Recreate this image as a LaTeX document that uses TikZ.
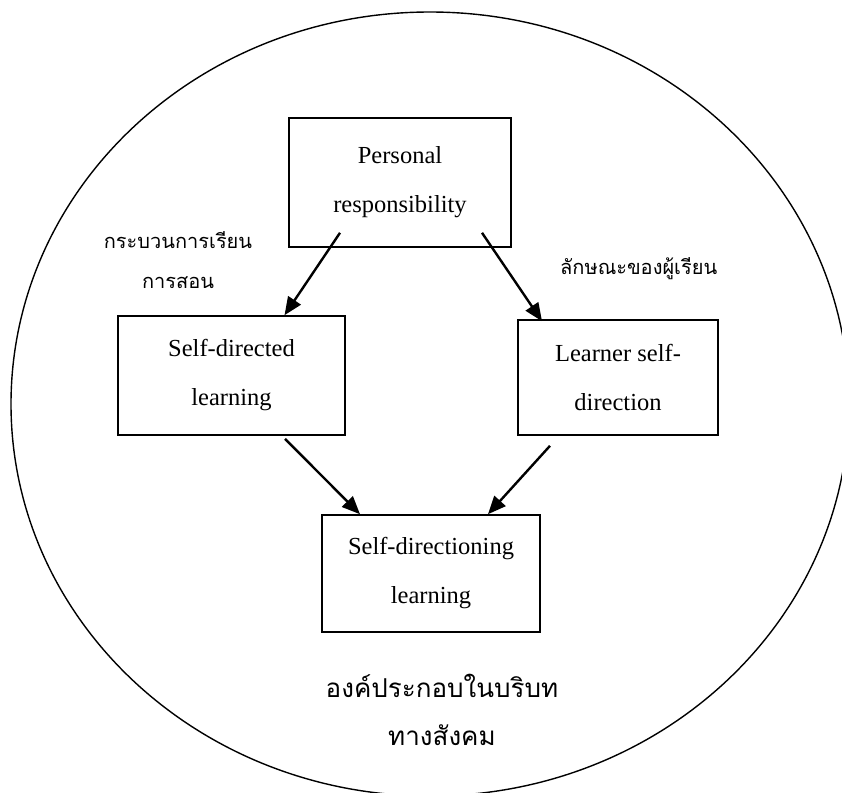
\documentclass[tikz,border=0pt]{standalone}
\usepackage{fontspec}
\setmainfont{Liberation Serif}
\newfontfamily\thaifont[Script=Thai]{Loma}
\usepackage{tikz}
\usetikzlibrary{shapes, arrows, arrows.meta}

\begin{document}
\begin{tikzpicture}[x=1pt, y=-1pt,
    box/.style = {shape=rectangle, draw, line width=1.6pt, align=center,
        font=\fontsize{24.5}{49}\selectfont, inner sep=0pt},
    link/.style = {line width=2.4pt, -{Triangle[length=18pt,width=15pt]}},
    thailabel/.style = {font=\thaifont\fontsize{20}{40}\selectfont, inner sep=0pt}]
    \useasboundingbox (0,0) rectangle (842,792);
    \draw[line width=1.4pt] (430,404) ellipse [x radius=419pt, y radius=392pt];
    \node[box, minimum width=222pt, minimum height=129pt] (pr) at (400,182.5)
        {Personal\\responsibility};
    \node[box, minimum width=227pt, minimum height=119pt] (sdl) at (231.5,375.5)
        {Self-directed\\learning};
    \node[box, minimum width=200pt, minimum height=115pt] (lsd) at (618,377.5)
        {Learner self-\\direction};
    \node[box, minimum width=218pt, minimum height=117pt] (sdil) at (431,573.5)
        {Self-directioning\\learning};
    \node[thailabel, align=center, anchor=base] (proc) at (178,288)
        {กระบวนการเรียน\\การสอน};
    \node[thailabel, anchor=base west] (trait) at (560,274) {ลักษณะของผู้เรียน};
    \node[thailabel, align=center, font=\thaifont\fontsize{26}{48}\selectfont] (ctx)
        at (442,710) {องค์ประกอบในบริบท\\ทางสังคม};
    \draw[link] ([xshift=-60pt,yshift=15pt]pr.south) -- ([xshift=53pt]sdl.north);
    \draw[link] ([xshift=82pt,yshift=15pt]pr.south) -- ([xshift=-76pt,yshift=-2pt]lsd.north);
    \draw[link] ([xshift=53.5pt,yshift=-3pt]sdl.south) -- ([xshift=-71pt]sdil.north);
    \draw[link] ([xshift=-68pt,yshift=-10pt]lsd.south) -- ([xshift=57pt]sdil.north);
\end{tikzpicture}
\end{document}
